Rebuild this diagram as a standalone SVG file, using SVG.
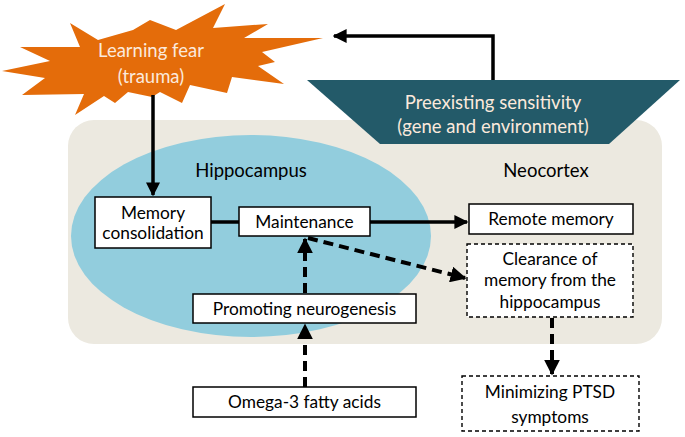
<svg xmlns="http://www.w3.org/2000/svg" width="685" height="437" viewBox="0 0 685 437">
<defs>
<marker id="ah" viewBox="0 0 10 10" refX="9" refY="5" markerWidth="4" markerHeight="4" markerUnits="strokeWidth" orient="auto">
<path d="M0,0 L10,5 L0,10 Z" fill="#000"/>
</marker>
<style>
.t{font-family:Lato,"Open Sans","Liberation Sans",sans-serif;font-size:17.3px;fill:#000;text-anchor:middle}
.b{font-size:18.5px}
.w{fill:#fbe9dc}
.box{fill:#fff;stroke:#000;stroke-width:1.5}
.dbox{fill:#fff;stroke:#000;stroke-width:1.4;stroke-dasharray:4 3}
.c{fill:none;stroke:#000;stroke-width:3.5}
.d{fill:none;stroke:#000;stroke-width:4;stroke-dasharray:10 6}
</style>
</defs>
<rect width="685" height="437" fill="#fff"/>
<g id="background">
<rect x="68" y="120" width="594" height="224" rx="26" fill="#ece9e0"/>
<ellipse cx="251" cy="236" rx="180" ry="101" fill="#92cddd"/>
<text class="t b" x="251" y="177">Hippocampus</text>
<text class="t b" x="546" y="177">Neocortex</text>
</g>
<g id="learning-fear">
<polygon fill="#e46c0a" points="70,23 98,40 133,30 150,20 176,30 225,4 213,28 268,24 244,38 323,38 262,52 275,62 258,66 284,84 232,77 227,93 190,85 182,103 160,92 152,97 128,92 115,103 104,96 75,115 84,94 22,95 45,78 2,71 50,61 20,47 80,47"/>
<text class="t b w" x="151" y="57">Learning fear</text>
<text class="t b w" x="151" y="83">(trauma)</text>
</g>
<g id="preexisting">
<polygon fill="#235a69" points="307,80 680,80 609,144 380,144"/>
<text class="t b w" x="493" y="109">Preexisting sensitivity</text>
<text class="t b w" x="493" y="133">(gene and environment)</text>
</g>
<g id="memory-consolidation">
<rect class="box" x="95" y="197" width="116" height="51"/>
<text class="t" x="153" y="219">Memory</text>
<text class="t" x="153" y="239">consolidation</text>
</g>
<g id="maintenance">
<rect class="box" x="239" y="207" width="131" height="29"/>
<text class="t" x="304.5" y="228">Maintenance</text>
</g>
<g id="remote-memory">
<rect class="box" x="469" y="204" width="164" height="30"/>
<text class="t" x="551" y="225">Remote memory</text>
</g>
<g id="clearance">
<rect class="dbox" x="467" y="244" width="166" height="73"/>
<text class="t" x="550" y="265">Clearance of</text>
<text class="t" x="550" y="286">memory from the</text>
<text class="t" x="550" y="308">hippocampus</text>
</g>
<g id="promoting-neurogenesis">
<rect class="box" x="193" y="294" width="223" height="29"/>
<text class="t" x="304.5" y="315">Promoting neurogenesis</text>
</g>
<g id="omega3">
<rect class="box" x="193" y="387" width="223" height="30"/>
<text class="t" x="304.5" y="408">Omega-3 fatty acids</text>
</g>
<g id="minimizing-ptsd">
<rect class="dbox" x="462" y="376" width="177" height="55"/>
<text class="t" x="550" y="398">Minimizing PTSD</text>
<text class="t" x="550" y="423">symptoms</text>
</g>
<g id="connectors">
<path class="c" d="M493,80 V36 H334" marker-end="url(#ah)"/>
<path class="c" d="M153,95 V195" marker-end="url(#ah)"/>
<path class="c" d="M211,222 H239"/>
<path class="c" d="M370,222 H467" marker-end="url(#ah)"/>
<path class="d" d="M308,238 L465,278" marker-end="url(#ah)"/>
<path class="d" d="M305,293 V239" marker-end="url(#ah)"/>
<path class="d" d="M305,387 V325" marker-end="url(#ah)"/>
<path class="d" d="M552,318 V374" marker-end="url(#ah)"/>
</g>
</svg>
